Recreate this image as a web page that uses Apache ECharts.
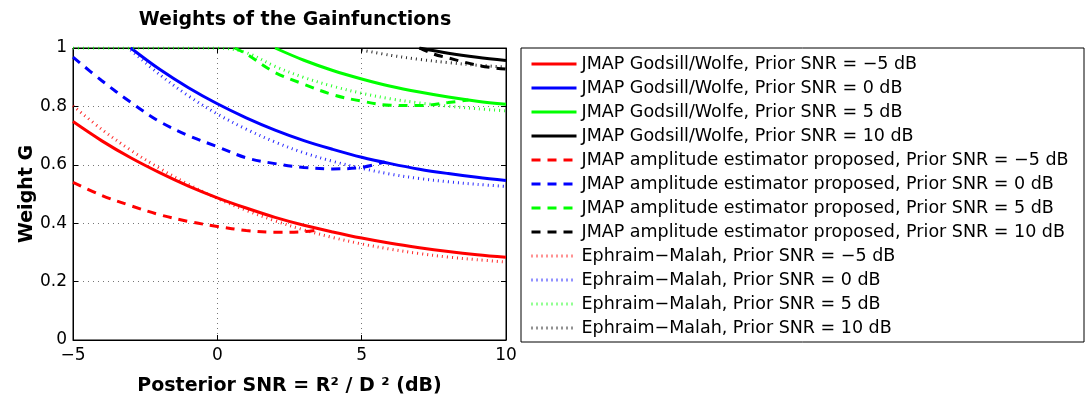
<!DOCTYPE html>
<html>
<head>
<meta charset="utf-8">
<title>Weights of the Gainfunctions</title>
<style>html,body{margin:0;padding:0;background:#fff;}</style>
</head>
<body>
<!-- chart area -->
<div id="container" style="width:1087px;height:401px;"></div>
<script src="https://cdn.jsdelivr.net/npm/echarts@6.0.0/dist/echarts.min.js"></script>
<script type="text/javascript">
'use strict'
var font = 'DejaVu Sans';

// posterior SNR in dB (x axis)
var snrDb = [-5, -4, -3, -2, -1, 0, 1, 2, 3, 4, 5, 6, 7, 8, 9, 10];

// JMAP Godsill/Wolfe (solid), null = above the plot (gain clipped at 1)
var gwRed = [0.748, 0.682, 0.624, 0.573, 0.527, 0.487, 0.452, 0.420, 0.393, 0.370, 0.349, 0.331, 0.316, 0.303, 0.292, 0.283];
var gwBlue = [null, null, 1.000, 0.927, 0.864, 0.809, 0.761, 0.719, 0.683, 0.653, 0.626, 0.604, 0.585, 0.570, 0.557, 0.546];
var gwGreen = [null, null, null, null, null, null, null, 1.000, 0.958, 0.923, 0.894, 0.869, 0.849, 0.832, 0.818, 0.807];
var gwBlack = [null, null, null, null, null, null, null, null, null, null, null, null, 1.000, 0.982, 0.968, 0.957];

// JMAP amplitude estimator proposed (dashed), each with its own x
var propRedX = [-5, -4, -3, -2, -1, 0, 1, 2, 3, 3.6];
var propRed = [0.540, 0.495, 0.460, 0.429, 0.406, 0.389, 0.375, 0.369, 0.371, 0.379];
var propBlueX = [-5, -4, -3, -2, -1, 0, 1, 2, 3, 4, 5, 5.8];
var propBlue = [0.969, 0.888, 0.814, 0.748, 0.700, 0.662, 0.624, 0.604, 0.591, 0.586, 0.591, 0.610];
var propGreenX = [0.6, 1, 2, 3, 4, 5, 6, 7, 8, 8.7];
var propGreen = [1.000, 0.980, 0.916, 0.876, 0.840, 0.818, 0.804, 0.803, 0.813, 0.822];
var propBlackX = [7, 7.5, 8, 8.5, 9, 9.5, 10];
var propBlack = [1.000, 0.979, 0.966, 0.953, 0.941, 0.933, 0.928];

// Ephraim-Malah (dotted)
var emRed = [0.802, 0.721, 0.650, 0.588, 0.533, 0.485, 0.444, 0.408, 0.377, 0.351, 0.329, 0.311, 0.296, 0.284, 0.275, 0.267];
var emBlue = [null, null, 0.993, 0.909, 0.836, 0.774, 0.722, 0.678, 0.641, 0.612, 0.588, 0.568, 0.553, 0.542, 0.533, 0.526];
var emGreen = [1, 1, 1, 1, 1, 1, 0.984, 0.937, 0.899, 0.869, 0.845, 0.826, 0.812, 0.801, 0.792, 0.785];
var emBlack = [null, null, null, null, null, null, null, null, null, null, 0.993, 0.975, 0.961, 0.950, 0.941, 0.935];

var priorSnr = ['\u22125', '0', '5', '10'];
var colors = ['#ff0000', '#0000ff', '#00ff00', '#000000'];

// [x, y] pairs, skipping the clipped points
function pairs(xs, ys) {
	var out = [];
	for (var i = 0; i < xs.length; i++) {
		if (ys[i] !== null) out.push([xs[i], ys[i]]);
	}
	return out;
}

function makeLine(name, data, color, type, width, opacity) {
	return {
		name: name,
		type: 'line',
		data: data,
		symbol: 'none',
		smooth: 0.35,
		color: color,
		lineStyle: { color: color, width: width, type: type, opacity: opacity, cap: 'butt' }
	};
}

var solidData = [pairs(snrDb, gwRed), pairs(snrDb, gwBlue), pairs(snrDb, gwGreen), pairs(snrDb, gwBlack)];
var dashData = [pairs(propRedX, propRed), pairs(propBlueX, propBlue), pairs(propGreenX, propGreen), pairs(propBlackX, propBlack)];
var dotData = [pairs(snrDb, emRed), pairs(snrDb, emBlue), pairs(snrDb, emGreen), pairs(snrDb, emBlack)];

var series = [];
var i;
for (i = 0; i < 4; i++) {
	series.push(makeLine('JMAP Godsill/Wolfe, Prior SNR = ' + priorSnr[i] + ' dB', solidData[i], colors[i], 'solid', 3, 1));
}
for (i = 0; i < 4; i++) {
	series.push(makeLine('JMAP amplitude estimator proposed, Prior SNR = ' + priorSnr[i] + ' dB', dashData[i], colors[i], [9, 7], 3, 1));
}
for (i = 0; i < 4; i++) {
	series.push(makeLine('Ephraim\u2212Malah, Prior SNR = ' + priorSnr[i] + ' dB', dotData[i], colors[i], [1, 4], 3, 0.85));
}

var gridLine = { show: true, lineStyle: { color: '#777', width: 1, type: [1, 4] } };
var tickIn = { show: true, inside: true, length: 5, lineStyle: { color: '#000' } };
var blackLine = { show: true, onZero: false, lineStyle: { color: '#000', width: 1 } };

var myChart = echarts.init(document.getElementById('container'));
var option = {
	animation: false,
	backgroundColor: '#fff',
	title: {
		text: 'Weights of the Gainfunctions',
		left: 290,
		top: 6,
		textAlign: 'center',
		textStyle: { fontFamily: font, fontSize: 19, fontWeight: 'bold', color: '#000' }
	},
	grid: {
		left: 73, top: 48, width: 433, height: 294,
		show: true, borderColor: '#000', borderWidth: 1
	},
	legend: {
		orient: 'vertical',
		left: 530,
		top: 52,
		padding: 0,
		itemWidth: 45,
		itemHeight: 14,
		itemGap: 0,
		selectedMode: false,
		// line sample only, no marker
		itemStyle: { opacity: 0 },
		lineStyle: { width: 3 },
		textStyle: { fontFamily: font, fontSize: 17.5, lineHeight: 24, color: '#000' }
	},
	// legend box
	graphic: [{
		type: 'rect',
		shape: { x: 521, y: 48, width: 563, height: 294 },
		style: { fill: 'none', stroke: '#000', lineWidth: 1 }
	}],
	xAxis: [{
		type: 'value', min: -5, max: 10, interval: 5,
		name: 'Posterior SNR = R\u00b2 / D \u00b2 (dB)',
		nameLocation: 'middle', nameGap: 37,
		nameTextStyle: { fontFamily: font, fontSize: 19, fontWeight: 'bold', color: '#000' },
		axisLine: blackLine, axisTick: tickIn, splitLine: gridLine,
		axisLabel: {
			fontFamily: font, fontSize: 17, color: '#000', margin: 7,
			formatter: function (v) { return v < 0 ? '\u2212' + Math.abs(v) : String(v); }
		}
	}, {
		type: 'value', position: 'top', min: -5, max: 10, interval: 5,
		axisLine: blackLine, axisTick: tickIn, axisLabel: { show: false }, splitLine: { show: false }
	}],
	yAxis: [{
		type: 'value', min: 0, max: 1, interval: 0.2,
		name: 'Weight G',
		nameLocation: 'middle', nameGap: 36, nameRotate: 90,
		nameTextStyle: { fontFamily: font, fontSize: 19, fontWeight: 'bold', color: '#000' },
		axisLine: blackLine, axisTick: tickIn, splitLine: gridLine,
		axisLabel: {
			fontFamily: font, fontSize: 17, color: '#000', margin: 6,
			formatter: function (v) { return (v === 0 || v === 1) ? String(v) : v.toFixed(1); }
		}
	}, {
		type: 'value', position: 'right', min: 0, max: 1, interval: 0.2,
		axisLine: blackLine, axisTick: tickIn, axisLabel: { show: false }, splitLine: { show: false }
	}],
	series: series
};
myChart.setOption(option);
</script>
</body>
</html>
